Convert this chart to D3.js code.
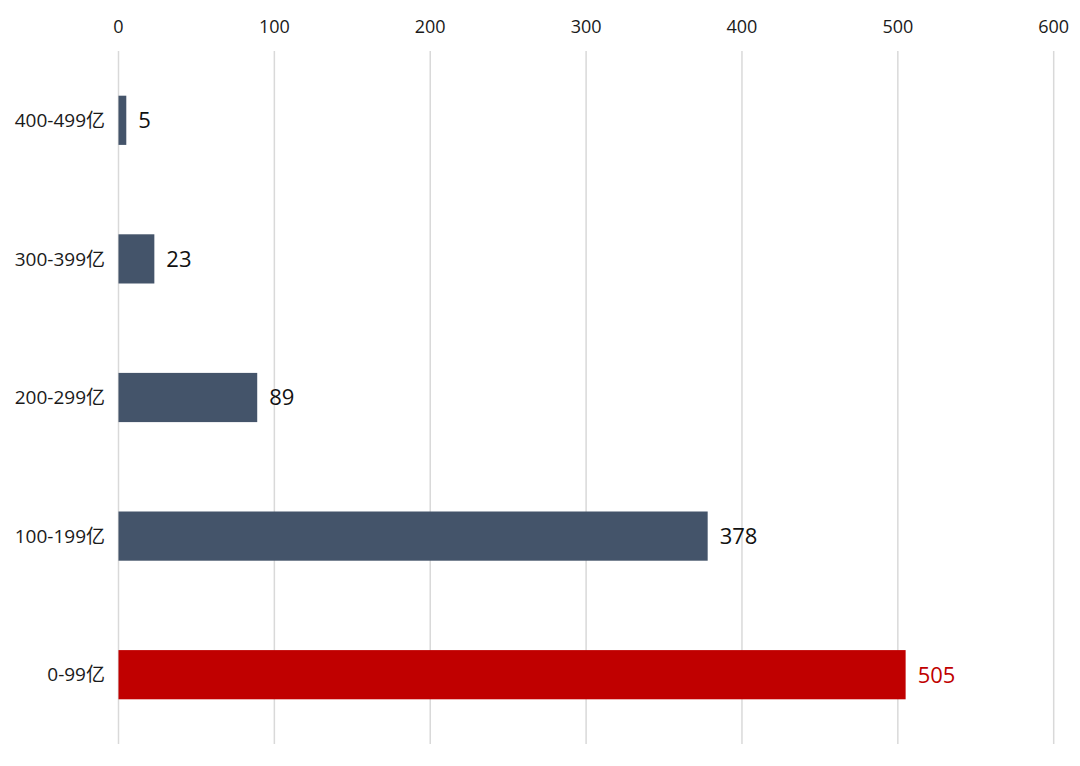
<!DOCTYPE html>
<html>
<head>
<meta charset="utf-8">
<script src="https://cdn.jsdelivr.net/npm/d3@7"></script>
<style>
  body { margin: 0; background: #fff; }
  text { font-family: "Open Sans", "Noto Sans", "Noto Sans CJK SC", sans-serif; }
</style>
</head>
<body>
<svg width="1080" height="766"></svg>
<script>
// categories from top to bottom
let categories = ["400-499亿", "300-399亿", "200-299亿", "100-199亿", "0-99亿"];
let values = [5, 23, 89, 378, 505];
let highlight = "0-99亿";
let ticks = [0, 100, 200, 300, 400, 500, 600];

let svg = d3.select("svg");

let x = d3.scaleLinear()
  .domain([0, 600])
  .range([118.5, 1053.7]);

let y = d3.scaleBand()
  .domain(categories)
  .range([51, 744])
  .paddingInner(0.645)
  .paddingOuter(0.3225);

// gridlines
svg.append("g")
  .selectAll("line")
  .data(ticks)
  .join("line")
  .attr("x1", d => x(d))
  .attr("x2", d => x(d))
  .attr("y1", 51)
  .attr("y2", 744)
  .attr("stroke", "#d9d9d9")
  .attr("stroke-width", 1.5);

// top axis labels
svg.append("g")
  .selectAll("text")
  .data(ticks)
  .join("text")
  .attr("x", d => x(d))
  .attr("y", 33)
  .attr("text-anchor", "middle")
  .attr("font-size", 18)
  .attr("fill", "#1a1a1a")
  .text(d => d);

let data = categories.map((c, i) => ({ name: c, value: values[i] }));

// bars
svg.append("g")
  .selectAll("rect")
  .data(data)
  .join("rect")
  .attr("x", x(0))
  .attr("y", d => y(d.name))
  .attr("width", d => x(d.value) - x(0))
  .attr("height", y.bandwidth())
  .attr("fill", d => d.name === highlight ? "#c00000" : "#44546a");

// category labels
svg.append("g")
  .selectAll("text")
  .data(data)
  .join("text")
  .attr("x", 105)
  .attr("y", d => y(d.name) + y.bandwidth() / 2)
  .attr("dy", "0.35em")
  .attr("text-anchor", "end")
  .attr("font-size", 19)
  .attr("fill", "#1a1a1a")
  .text(d => d.name);

// value labels
svg.append("g")
  .selectAll("text")
  .data(data)
  .join("text")
  .attr("x", d => x(d.value) + 12)
  .attr("y", d => y(d.name) + y.bandwidth() / 2)
  .attr("dy", "0.36em")
  .attr("font-size", 22)
  .attr("fill", d => d.name === highlight ? "#c00000" : "#111")
  .text(d => d.value);
</script>
</body>
</html>
